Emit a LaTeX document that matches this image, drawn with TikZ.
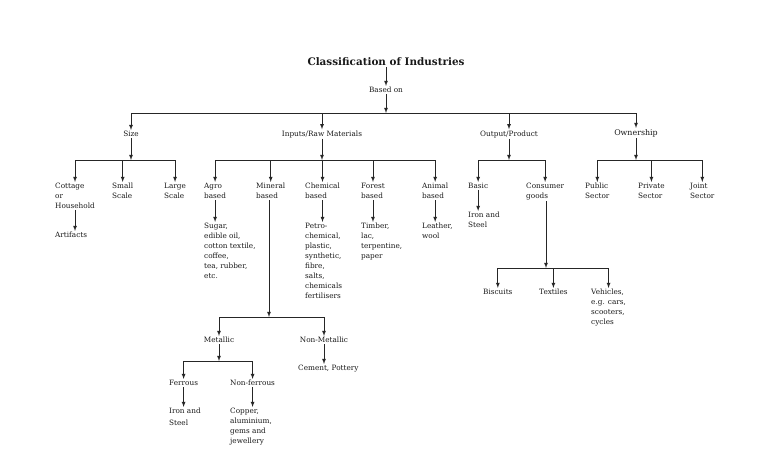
\documentclass[tikz,border=0pt]{standalone}
\usepackage{fontspec}
\setmainfont{DejaVu Serif}
\begin{document}
\begin{tikzpicture}[x=1pt,y=-1pt,
	txt/.style={inner sep=1pt, align=left, font=\fontsize{7.3}{10}\selectfont, text=black!90},
	lbl/.style={inner sep=1pt, font=\fontsize{7.3}{10}\selectfont, text=black!90},
	arr/.style={-latex, line width=0.8pt, draw=black!85}]
	\useasboundingbox (0,0) rectangle (777,462);
	% top
	\node (title) at (386,62) [inner sep=1pt, font=\fontsize{10.4}{12}\selectfont\bfseries, text=black!90] {Classification of Industries};
	\node (based) at (386,90) [lbl] {Based on};
	\coordinate (mainbus) at (386,113);
	\draw[arr] (title) -- (based);
	\draw[arr] (based) -- (mainbus);
	% first level
	\node (size) at (131,134) [lbl] {Size};
	\node (inputs) at (322,134) [lbl] {Inputs/Raw Materials};
	\node (output) at (509,134) [lbl] {Output/Product};
	\node (owner) at (636,133) [lbl, font=\fontsize{7.9}{10}\selectfont] {Ownership};
	\draw[arr] (mainbus) -| (size);
	\draw[arr] (mainbus) -| (inputs);
	\draw[arr] (mainbus) -| (output);
	\draw[arr] (mainbus) -| (owner);
	\coordinate (sizebus) at (131,160);
	\coordinate (inpbus) at (322,160);
	\coordinate (outbus) at (509,160);
	\coordinate (ownbus) at (636,160);
	\draw[arr] (size) -- (sizebus);
	\draw[arr] (inputs) -- (inpbus);
	\draw[arr] (output) -- (outbus);
	\draw[arr] (owner) -- (ownbus);
	% size
	\node (cottage) at (54,182) [txt, anchor=north west] {Cottage\\or\\Household};
	\node (small) at (111,182) [txt, anchor=north west] {Small\\Scale};
	\node (large) at (163,182) [txt, anchor=north west] {Large\\Scale};
	\draw[arr] (sizebus) -| (cottage);
	\draw[arr] (sizebus) -| (small);
	\draw[arr] (sizebus) -| (large);
	\node (artifacts) at (54,231) [txt, anchor=north west] {Artifacts};
	\draw[arr] (cottage.south) -- (cottage.south |- artifacts.north);
	% inputs
	\node (agro) at (203,182) [txt, anchor=north west] {Agro\\based};
	\node (mineral) at (255,182) [txt, anchor=north west] {Mineral\\based};
	\node (chemical) at (304,182) [txt, anchor=north west] {Chemical\\based};
	\node (forest) at (360,182) [txt, anchor=north west] {Forest\\based};
	\node (animal) at (421,182) [txt, anchor=north west] {Animal\\based};
	\draw[arr] (inpbus) -| (agro);
	\draw[arr] (inpbus) -| (mineral);
	\draw[arr] (inpbus) -| (chemical);
	\draw[arr] (inpbus) -| (forest);
	\draw[arr] (inpbus) -| (animal);
	\node (agrolist) at (203,222) [txt, anchor=north west] {Sugar,\\edible oil,\\cotton textile,\\coffee,\\tea, rubber,\\etc.};
	\node (chemlist) at (304,222) [txt, anchor=north west] {Petro-\\chemical,\\plastic,\\synthetic,\\fibre,\\salts,\\chemicals\\fertilisers};
	\node (forestlist) at (360,222) [txt, anchor=north west] {Timber,\\lac,\\terpentine,\\paper};
	\node (animallist) at (421,222) [txt, anchor=north west] {Leather,\\wool};
	\draw[arr] (agro.south) -- (agro.south |- agrolist.north);
	\draw[arr] (chemical.south) -- (chemical.south |- chemlist.north);
	\draw[arr] (forest.south) -- (forest.south |- forestlist.north);
	\draw[arr] (animal.south) -- (animal.south |- animallist.north);
	% mineral
	\coordinate (minbus) at (269,317);
	\draw[arr] (mineral.south -| minbus) -- (minbus);
	\node (metallic) at (219,340) [lbl] {Metallic};
	\node (nonmetallic) at (324,340) [lbl] {Non-Metallic};
	\draw[arr] (minbus) -| (metallic);
	\draw[arr] (minbus) -| (nonmetallic);
	\node (cement) at (297,364) [txt, anchor=north west] {Cement, Pottery};
	\draw[arr] (nonmetallic.south) -- (nonmetallic.south |- cement.north);
	\coordinate (metbus) at (219,361);
	\draw[arr] (metallic) -- (metbus);
	\node (ferrous) at (168,379) [txt, anchor=north west] {Ferrous};
	\node (nonferrous) at (229,379) [txt, anchor=north west] {Non-ferrous};
	\draw[arr] (metbus) -| (ferrous);
	\draw[arr] (metbus) -| (nonferrous);
	\node (ironsteelb) at (168,407) [txt, anchor=north west, font=\fontsize{7.3}{12}\selectfont] {Iron and\\Steel};
	\node (copper) at (229,407) [txt, anchor=north west] {Copper,\\aluminium,\\gems and\\jewellery};
	\draw[arr] (ferrous.south) -- (ferrous.south |- ironsteelb.north);
	\draw[arr] (nonferrous.south) -- (nonferrous.south |- copper.north);
	% output
	\node (basic) at (467,182) [txt, anchor=north west] {Basic};
	\node (consumer) at (525,182) [txt, anchor=north west] {Consumer\\goods};
	\draw[arr] (outbus) -| (basic);
	\draw[arr] (outbus) -| (consumer);
	\node (ironsteela) at (467,211) [txt, anchor=north west] {Iron and\\Steel};
	\draw[arr] (basic.south) -- (basic.south |- ironsteela.north);
	\coordinate (conbus) at (546,268);
	\draw[arr] (consumer.south -| conbus) -- (conbus);
	\node (biscuits) at (482,288) [txt, anchor=north west] {Biscuits};
	\node (textiles) at (538,288) [txt, anchor=north west] {Textiles};
	\node (vehicles) at (590,288) [txt, anchor=north west] {Vehicles,\\e.g. cars,\\scooters,\\cycles};
	\draw[arr] (conbus) -| (biscuits);
	\draw[arr] (conbus) -| (textiles);
	\draw[arr] (conbus) -| (vehicles);
	% ownership
	\node (public) at (584,182) [txt, anchor=north west] {Public\\Sector};
	\node (private) at (637,182) [txt, anchor=north west] {Private\\Sector};
	\node (joint) at (689,182) [txt, anchor=north west] {Joint\\Sector};
	\draw[arr] (ownbus) -| (public);
	\draw[arr] (ownbus) -| (private);
	\draw[arr] (ownbus) -| (joint);
\end{tikzpicture}
\end{document}
